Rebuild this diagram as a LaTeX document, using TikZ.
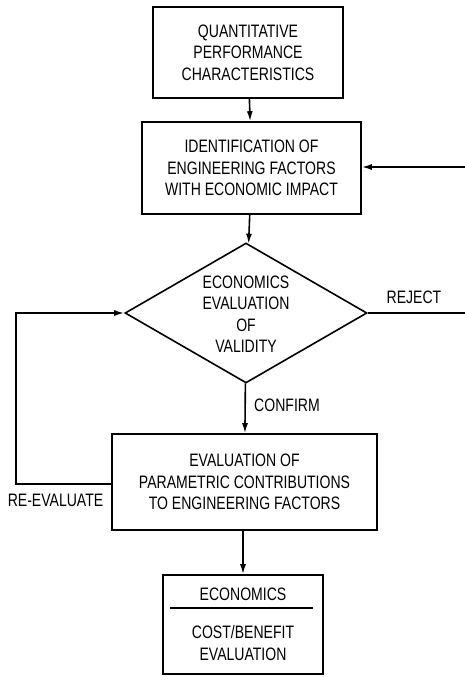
\documentclass[tikz,border=0pt]{standalone}
\usepackage{fontspec}
\setmainfont{Liberation Sans}[FakeStretch=0.78]
\usetikzlibrary{shapes.geometric,arrows.meta}

\begin{document}
\begin{tikzpicture}[
every node/.style={font=\fontsize{18}{21.5}\selectfont,align=center},
x=1pt,
y=-1pt,
line width=1.6pt,
box/.style={draw,rectangle,inner sep=0pt},
flow/.style={-{Latex[length=10pt,width=6pt]}}
]
\useasboundingbox (0,0) rectangle (465,677);

% boxes
\node[box,minimum width=190,minimum height=91] (qpc) at (248,52.5)
  {QUANTITATIVE\\PERFORMANCE\\CHARACTERISTICS};
\node[box,minimum width=219,minimum height=92] (ident) at (251.5,168)
  {IDENTIFICATION OF\\ENGINEERING FACTORS\\WITH ECONOMIC IMPACT};

% decision
\node[draw,diamond,aspect=1.73,inner sep=0pt,minimum width=242,minimum height=140] (valid) at (246,313) {};
\node (validtxt) at (246,314) {ECONOMICS\\EVALUATION\\OF\\VALIDITY};

\node[box,minimum width=265,minimum height=96] (param) at (244.5,482)
  {EVALUATION OF\\PARAMETRIC CONTRIBUTIONS\\TO ENGINEERING FACTORS};
\node[box,minimum width=160,minimum height=99] (cost) at (243,624.5)
  {ECONOMICS\\[16.5pt]COST/BENEFIT\\EVALUATION};
\draw (170,608) -- (313,608);

% free ends
\coordinate (rin) at (465,167);
\coordinate (rout) at (465,313);
\coordinate (lcorner) at (16,484);

% connecting lines
\draw[flow] (qpc) -- (ident);
\draw[flow] (ident) -- (valid);
\draw[flow] (rin) -- (ident.east |- rin);
\draw (valid.east) -- (rout);
\draw[flow] (valid) -- (param);
\draw[flow] (param.west |- lcorner) -- (lcorner) |- (valid.west);
\draw[flow] (param.south -| cost.north) -- (cost);

% labels
\node (reject) at (414,297) {REJECT};
\node (confirm) at (287,405) {CONFIRM};
\node (reeval) at (55.5,500) {RE-EVALUATE};

\end{tikzpicture}
\end{document}
